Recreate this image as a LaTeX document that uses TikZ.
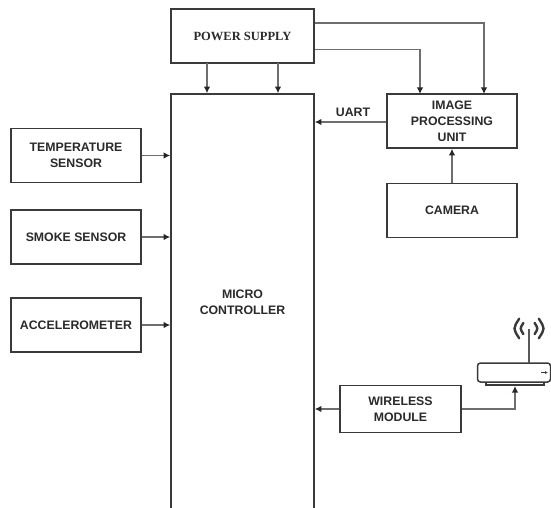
\documentclass[tikz,border=0pt]{standalone}
\usepackage{fontspec}
\setmainfont{Liberation Sans}
\newfontfamily\serifbold{Liberation Serif}
\usetikzlibrary{arrows.meta,calc}
\definecolor{boxline}{HTML}{3A3A3A}
\definecolor{arrline}{HTML}{6E6E6E}
\definecolor{txt}{HTML}{2A2A2A}
\tikzset{
 x=1pt,y=-1pt,
 blk/.style={draw=boxline,line width=1.6pt,fill=white,minimum width=#1,inner sep=0pt,align=center,text=txt,font=\fontsize{12.3}{15.8}\selectfont\bfseries},
 arr/.style={draw=arrline,line width=1.3pt,-{Latex[length=6.5pt,width=6.5pt,color=black!85]}},
 wave/.style={draw=boxline,line width=2.4pt,line cap=round},
}
\begin{document}
\begin{tikzpicture}
\useasboundingbox (0,0) rectangle (551,508);
\node[blk=143pt,minimum height=54pt,font=\fontsize{12.5}{15}\serifbold\bfseries] (power) at (242.5,36) {POWER SUPPLY};
\node[blk=143pt,minimum height=416pt] (mcu) at (242.5,302) {MICRO\\CONTROLLER};
\node[blk=130pt,minimum height=54pt] (ipu) at (452,121) {IMAGE\\PROCESSING\\UNIT};
\node[blk=130pt,minimum height=54pt] (camera) at (452,210.5) {CAMERA};
\node[blk=130pt,minimum height=54pt] (temp) at (76,155.5) {TEMPERATURE\\SENSOR};
\node[blk=130pt,minimum height=54pt] (smoke) at (76,237) {SMOKE SENSOR};
\node[blk=130pt,minimum height=54pt] (accel) at (76,325) {ACCELEROMETER};
\node[blk=121pt,minimum height=47pt] (wifi) at (400.5,409) {WIRELESS\\MODULE};
\node[draw=boxline,line width=1.2pt,fill=white,minimum width=58pt,minimum height=3pt,inner sep=0pt] (base) at (515,383.5) {};
\node[draw=boxline,line width=1.5pt,fill=white,rounded corners=3pt,minimum width=73pt,minimum height=19pt,inner sep=0pt] (router) at (514,372.5) {};
\coordinate (antbot) at (529,362.5);
\coordinate (anttop) at (529,328.5);
\draw[draw=arrline!80!black,line width=2.6pt] (antbot) -- (anttop);
\foreach \r in {8,14}{
 \draw[wave] ($(anttop)+(-\r*0.7,-\r*0.7)$) .. controls ($(anttop)+(-\r*1.15,0)$) .. ($(anttop)+(-\r*0.7,\r*0.7)$);
 \draw[wave] ($(anttop)+(\r*0.7,-\r*0.7)$) .. controls ($(anttop)+(\r*1.15,0)$) .. ($(anttop)+(\r*0.7,\r*0.7)$);
}
\draw[boxline,line width=1.3pt,-{Latex[length=3pt,width=3pt]}] (541,372.5) -- (548,372.5);
\coordinate (p1) at (207,63);
\coordinate (p2) at (278,63);
\draw[arr] (p1) -- (p1 |- mcu.north);
\draw[arr] (p2) -- (p2 |- mcu.north);
\coordinate (p3) at (power.east |- 0,49.5);
\coordinate (p4) at (power.east |- 0,23);
\coordinate (i1) at (420,94);
\coordinate (i2) at (484,94);
\draw[arr] (p3) -| (i1);
\draw[arr] (p4) -| (i2);
\draw[arr] (ipu.west |- 0,122) -- (mcu.east |- 0,122);
\node[font=\fontsize{12.3}{15}\selectfont\bfseries,text=txt,inner sep=0pt] (uart) at (353,112) {UART};
\draw[arr] (camera.north) -- (ipu.south);
\draw[arr] (temp.east) -- (temp.east -| mcu.west);
\draw[arr] (smoke.east) -- (smoke.east -| mcu.west);
\draw[arr] (accel.east) -- (accel.east -| mcu.west);
\draw[arr] (wifi.west) -- (wifi.west -| mcu.east);
\coordinate (r1) at (515,386);
\draw[arr] (wifi.east) -| (r1);
\end{tikzpicture}
\end{document}
